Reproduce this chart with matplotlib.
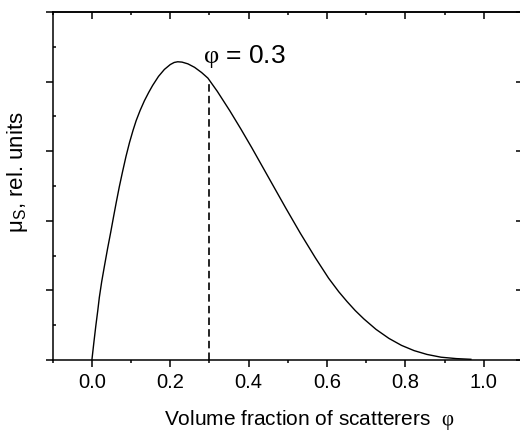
import numpy as np
import matplotlib
matplotlib.use("Agg")
import matplotlib.pyplot as plt
from matplotlib.ticker import MultipleLocator, NullFormatter

# ---- data ----
phi = [0.0, 0.005, 0.010, 0.015, 0.019, 0.025, 0.032, 0.040, 0.048, 0.055,
       0.062, 0.070, 0.078, 0.087, 0.096, 0.105, 0.113, 0.123, 0.134, 0.145,
       0.155, 0.170, 0.185, 0.200, 0.210, 0.219, 0.230, 0.245, 0.262, 0.280,
       0.296, 0.320, 0.352, 0.380, 0.408, 0.430, 0.459, 0.495, 0.532, 0.570,
       0.604, 0.630, 0.651, 0.672, 0.694, 0.725, 0.758, 0.790, 0.822, 0.855,
       0.891, 0.930, 0.967]
mu_s = [0.0, 0.050, 0.098, 0.142, 0.180, 0.225, 0.270, 0.320, 0.367, 0.410,
        0.452, 0.498, 0.540, 0.585, 0.625, 0.660, 0.688, 0.717, 0.745, 0.769,
        0.789, 0.815, 0.835, 0.849, 0.855, 0.857, 0.856, 0.851, 0.841, 0.826,
        0.810, 0.772, 0.716, 0.664, 0.610, 0.566, 0.508, 0.436, 0.364, 0.294,
        0.235, 0.196, 0.168, 0.142, 0.118, 0.088, 0.062, 0.042, 0.027, 0.016,
        0.008, 0.004, 0.002]
phi_mark = 0.3
x_ticks = [0.0, 0.2, 0.4, 0.6, 0.8, 1.0]
x_ticklabels = ["0.0", "0.2", "0.4", "0.6", "0.8", "1.0"]

plt.rcParams["font.family"] = ["Liberation Sans", "DejaVu Sans"]
plt.rcParams["mathtext.fontset"] = "custom"
plt.rcParams["mathtext.rm"] = "Liberation Sans"
plt.rcParams["mathtext.sf"] = "Liberation Serif"

fig = plt.figure(figsize=(5.2, 4.32), dpi=100)
ax = fig.add_axes([52.7 / 520, 72 / 432, (523 - 52.7) / 520, 348 / 432])

ax.plot(phi, mu_s, color="black", lw=1.0)
top = np.interp(phi_mark, phi, mu_s)
ax.plot([phi_mark, phi_mark], [0, top], color="black", lw=1.2,
        linestyle=(0, (4.5, 2.5)))

ax.set_xlim(-0.1, 1.1)
ax.set_ylim(0, 1.0)

for s in ax.spines.values():
    s.set_linewidth(1.1)

ax.set_xticks(x_ticks)
ax.set_xticklabels(x_ticklabels)
ax.xaxis.set_minor_locator(MultipleLocator(0.1))
ax.yaxis.set_major_locator(MultipleLocator(0.2))
ax.yaxis.set_minor_locator(MultipleLocator(0.1))
ax.yaxis.set_major_formatter(NullFormatter())

ax.tick_params(axis="x", which="major", direction="out", length=5, width=1.1,
               labelsize=14.5, pad=4.5, top=False)
ax.tick_params(axis="x", which="minor", direction="out", length=2.5, width=1.1, top=False)
ax.tick_params(axis="y", which="major", direction="out", length=5, width=1.1, right=False)
ax.tick_params(axis="y", which="minor", direction="in", length=2.5, width=1.1, right=False)

secx = ax.secondary_xaxis("top")
secx.set_xticks(x_ticks)
secx.xaxis.set_minor_locator(MultipleLocator(0.1))
secx.tick_params(axis="x", which="major", direction="in", length=5, width=1.1, labeltop=False)
secx.tick_params(axis="x", which="minor", direction="in", length=2.5, width=1.1)
secx.spines["top"].set_linewidth(1.1)

secy = ax.secondary_yaxis("right")
secy.yaxis.set_major_locator(MultipleLocator(0.2))
secy.yaxis.set_minor_locator(MultipleLocator(0.1))
secy.tick_params(axis="y", which="major", direction="in", length=5, width=1.1, labelright=False)
secy.tick_params(axis="y", which="minor", direction="in", length=2.5, width=1.1)
secy.spines["right"].set_linewidth(1.1)

ax.set_xlabel(r"Volume fraction of scatterers  $\mathsf{\varphi}$", fontsize=15)
ax.xaxis.set_label_coords(0.546, -0.138)
ax.set_ylabel(r"$\mathregular{\mu_S}$, rel. units", fontsize=16)
ax.yaxis.set_label_coords(-0.048, 0.54)

ax.text(0.283, 0.854, r"$\mathsf{\varphi}$ = 0.3", fontsize=19, ha="left", va="baseline")

fig.savefig("out.png", dpi=100)
